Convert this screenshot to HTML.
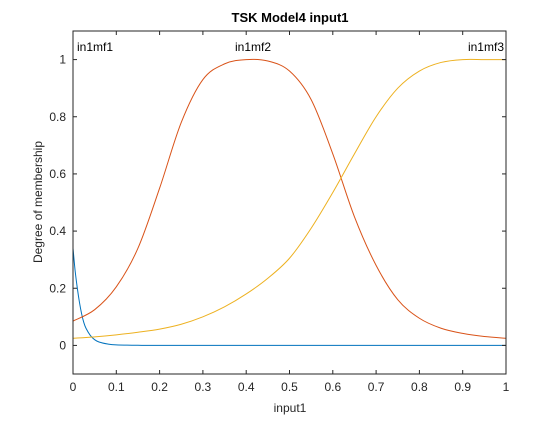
<!DOCTYPE html>
<html><head><meta charset="utf-8"><style>
body{margin:0;background:#fff;}
svg text{font-family:"Liberation Sans",sans-serif;}
</style></head><body>
<svg id="chart" width="560" height="420" xmlns="http://www.w3.org/2000/svg">
<rect width="560" height="420" fill="#fff"/>
<text x="290" y="22" font-size="13" font-weight="bold" text-anchor="middle" fill="#000">TSK Model4 input1</text>
<text x="290" y="412" font-size="12" text-anchor="middle" fill="#262626">input1</text>
<text transform="translate(42,202) rotate(-90)" font-size="12" text-anchor="middle" fill="#262626">Degree of membership</text>
<g id="plot"></g>
</svg>
<script>
const xTicks=[0,0.1,0.2,0.3,0.4,0.5,0.6,0.7,0.8,0.9,1];
const xTickLabels=["0","0.1","0.2","0.3","0.4","0.5","0.6","0.7","0.8","0.9","1"];
const yTicks=[0,0.2,0.4,0.6,0.8,1];
const yTickLabels=["0","0.2","0.4","0.6","0.8","1"];
const mfNames=["in1mf1","in1mf2","in1mf3"];
const mf1X=[0,0.005,0.01,0.015,0.02,0.025,0.03,0.04,0.05,0.06,0.08,0.1,0.15,0.2,0.4,0.6,0.8,1];
const mf1Y=[0.34,0.26,0.2,0.15,0.11,0.08,0.06,0.035,0.02,0.012,0.005,0.002,0.0005,0,0,0,0,0];
const mf2X=[0,0.05,0.1,0.15,0.2,0.25,0.3,0.35,0.4,0.45,0.5,0.55,0.6,0.65,0.7,0.75,0.8,0.85,0.9,0.95,1];
const mf2Y=[0.085,0.125,0.205,0.34,0.55,0.78,0.93,0.985,1,0.995,0.96,0.86,0.67,0.45,0.28,0.16,0.095,0.06,0.042,0.031,0.025];
const mf3X=[0,0.05,0.1,0.15,0.2,0.25,0.3,0.35,0.4,0.45,0.5,0.55,0.6,0.65,0.7,0.75,0.8,0.85,0.9,0.95,1];
const mf3Y=[0.025,0.03,0.037,0.046,0.057,0.074,0.1,0.135,0.18,0.235,0.305,0.41,0.535,0.67,0.8,0.9,0.96,0.99,1,1,1];

const L=73,R=506,T=31,B=374,xmin=0,xmax=1,ymin=-0.1,ymax=1.1;
const sx=v=>L+(v-xmin)/(xmax-xmin)*(R-L);
const sy=v=>B-(v-ymin)/(ymax-ymin)*(B-T);
const NS="http://www.w3.org/2000/svg";
const g=document.getElementById('plot');
function mk(tag,attrs){const e=document.createElementNS(NS,tag);for(const k in attrs)e.setAttribute(k,attrs[k]);g.appendChild(e);return e;}
function pathFor(xs,ys){
  const p=xs.map((x,i)=>[sx(x),sy(ys[i])]);
  let d=`M${p[0][0]},${p[0][1]}`;
  for(let i=0;i<p.length-1;i++){
    const p0=p[i-1]||p[i],p1=p[i],p2=p[i+1],p3=p[i+2]||p[i+1];
    const c1=[p1[0]+(p2[0]-p0[0])/6,p1[1]+(p2[1]-p0[1])/6];
    const c2=[p2[0]-(p3[0]-p1[0])/6,p2[1]-(p3[1]-p1[1])/6];
    d+=`C${c1[0]},${c1[1]} ${c2[0]},${c2[1]} ${p2[0]},${p2[1]}`;
  }
  return d;
}
const series=[[mf1X,mf1Y,'#0072BD'],[mf2X,mf2Y,'#D95319'],[mf3X,mf3Y,'#EDB120']];
series.forEach((s,i)=>{
  const e=mk('path',{d:pathFor(s[0],s[1]),fill:'none',stroke:s[2],'stroke-width':1});
  
  
});
const box=mk('rect',{x:L,y:T,width:R-L,height:B-T,fill:'none',stroke:'#262626','stroke-width':1});


xTicks.forEach((v,i)=>{
  const x=sx(v);
  mk('line',{x1:x,x2:x,y1:B,y2:B-4,stroke:'#262626'});
  mk('line',{x1:x,x2:x,y1:T,y2:T+4,stroke:'#262626'});
  const t=mk('text',{x:x,y:B+17,'font-size':12,'text-anchor':'middle',fill:'#262626'});
  t.textContent=xTickLabels[i];
  
  
});
yTicks.forEach((v,i)=>{
  const y=sy(v);
  mk('line',{x1:L,x2:L+4,y1:y,y2:y,stroke:'#262626'});
  mk('line',{x1:R,x2:R-4,y1:y,y2:y,stroke:'#262626'});
  const t=mk('text',{x:L-7,y:y+4,'font-size':12,'text-anchor':'end',fill:'#262626'});
  t.textContent=yTickLabels[i];
  
  
});
const labelPos=[[77,'start'],[253,'middle'],[504,'end']];
mfNames.forEach((n,i)=>{
  const t=mk('text',{x:labelPos[i][0],y:51,'font-size':12,'text-anchor':labelPos[i][1],fill:'#000'});
  t.textContent=n;
  
  
});
</script>
</body></html>
